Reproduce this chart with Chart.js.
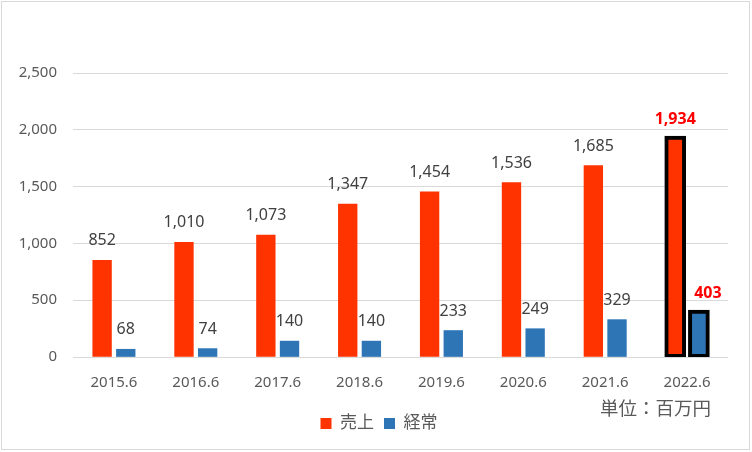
<!DOCTYPE html>
<html>
<head>
<meta charset="utf-8">
<script src="https://cdn.jsdelivr.net/npm/chart.js@4"></script>
<style>
  html, body { margin: 0; padding: 0; background: #fff; }
  #wrap { width: 752px; height: 452px; }
</style>
</head>
<body>
<div id="wrap"><canvas id="salesChart" width="752" height="452"></canvas></div>
<script>
const years = ['2015.6', '2016.6', '2017.6', '2018.6', '2019.6', '2020.6', '2021.6', '2022.6'];
const sales = [852, 1010, 1073, 1347, 1454, 1536, 1685, 1934];
const ordinary = [68, 74, 140, 140, 233, 249, 329, 403];
const yTicks = [0, 500, 1000, 1500, 2000, 2500];
const unitText = '単位：百万円';

const FONT = '"Noto Sans", "Noto Sans CJK JP", sans-serif';
const lastIdx = years.length - 1;

// white background, outer frame and unit note
const framePlugin = {
    id: 'frame',
    afterLayout(c) {
        // nudge legend to the right like the original
        if (c.legend) {
            c.legend.left += 15;
            c.legend.right += 15;
        }
    },
    beforeDraw(c) {
        const ctx = c.ctx;
        ctx.save();
        ctx.fillStyle = '#ffffff';
        ctx.fillRect(0, 0, c.width, c.height);
        ctx.strokeStyle = '#d9d9d9';
        ctx.lineWidth = 1;
        ctx.strokeRect(1.5, 1.5, c.width - 4, c.height - 4);
        ctx.restore();
    },
    afterDraw(c) {
        const ctx = c.ctx;
        ctx.save();
        ctx.font = '18.5px ' + FONT;
        ctx.fillStyle = '#595959';
        ctx.textAlign = 'right';
        ctx.textBaseline = 'middle';
        ctx.fillText(unitText, 711, 410);
        ctx.restore();
    }
};

// value labels above each bar
const labelPlugin = {
    id: 'valueLabels',
    afterDatasetsDraw(c) {
        const ctx = c.ctx;
        ctx.save();
        ctx.textAlign = 'center';
        ctx.textBaseline = 'alphabetic';
        c.data.datasets.forEach((ds, di) => {
            c.getDatasetMeta(di).data.forEach((bar, i) => {
                const v = ds.data[i];
                if (i === lastIdx) {
                    ctx.font = 'bold 16px ' + FONT;
                    ctx.fillStyle = '#ff0000';
                    const dx = di === 1 ? 9 : 0;
                    ctx.fillText(v.toLocaleString('en-US'), bar.x + dx, bar.y - 13);
                } else {
                    ctx.font = '16px ' + FONT;
                    ctx.fillStyle = '#404040';
                    ctx.fillText(v.toLocaleString('en-US'), bar.x, bar.y - 15);
                }
            });
        });
        ctx.restore();
    }
};

const border = (ctx) => ctx.dataIndex === lastIdx ? 4 : 0;
const inflate = (ctx) => ctx.dataIndex === lastIdx ? 1.5 : 0.33;

new Chart(document.getElementById('salesChart'), {
    type: 'bar',
    data: {
        labels: years,
        datasets: [{
            label: '売上',
            data: sales,
            backgroundColor: '#ff3300',
            borderColor: '#000000',
            borderWidth: border,
            borderSkipped: false,
            inflateAmount: inflate,
            categoryPercentage: 0.578,
            barPercentage: 0.79
        }, {
            label: '経常',
            data: ordinary,
            backgroundColor: '#2e75b6',
            borderColor: '#000000',
            borderWidth: border,
            borderSkipped: false,
            inflateAmount: inflate,
            categoryPercentage: 0.578,
            barPercentage: 0.79
        }]
    },
    options: {
        responsive: false,
        animation: false,
        devicePixelRatio: 1,
        layout: { padding: { left: 0, right: 24, top: 73, bottom: 10 } },
        plugins: {
            tooltip: { enabled: false },
            legend: {
                position: 'bottom',
                labels: {
                    boxWidth: 11,
                    boxHeight: 11,
                    padding: 10,
                    color: '#595959',
                    font: { size: 17, family: FONT }
                }
            }
        },
        scales: {
            x: {
                grid: { display: false },
                border: { display: false },
                afterFit(scale) { scale.height += 4; },
                ticks: {
                    color: '#595959',
                    padding: 9,
                    font: { size: 15, family: FONT }
                }
            },
            y: {
                min: 0,
                max: 2500,
                afterBuildTicks(scale) {
                    scale.ticks = yTicks.map(v => ({ value: v }));
                },
                afterFit(scale) { scale.width = 73; },
                grid: { color: '#d9d9d9', lineWidth: 1, drawTicks: false },
                border: { display: false },
                ticks: {
                    color: '#595959',
                    padding: 16,
                    font: { size: 15, family: FONT },
                    callback: v => v.toLocaleString('en-US')
                }
            }
        }
    },
    plugins: [framePlugin, labelPlugin]
});
</script>
</body>
</html>
